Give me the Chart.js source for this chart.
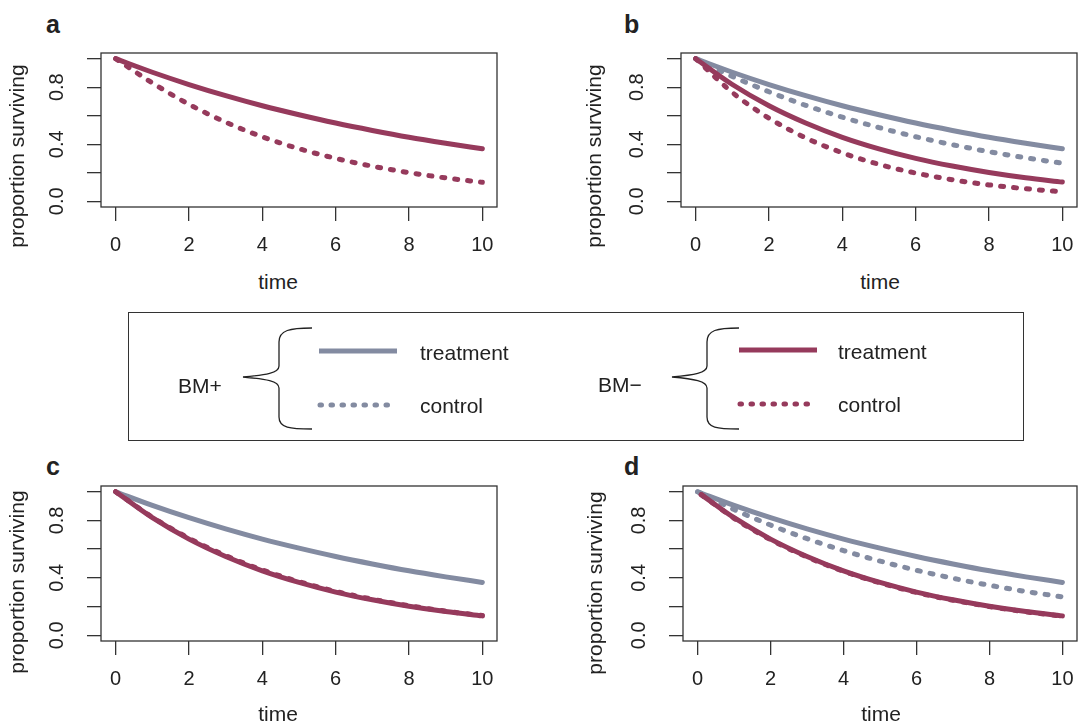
<!DOCTYPE html>
<html lang="en">
<head>
  <meta charset="UTF-8" />
  <title>Proportion surviving</title>
  <script src="https://cdn.jsdelivr.net/npm/chart.js"></script>
  <style>
    body { margin: 0; background: #fff; font-family: "Liberation Sans", Arial, sans-serif; color: #222; }
    #fig { position: relative; width: 1080px; height: 725px; overflow: hidden; }
    .panel { position: absolute; }
    .lbl { position: absolute; white-space: nowrap; font-size: 21px; transform: translate(-50%, -50%); }
    .ytitle { transform: translate(-50%, -50%) rotate(-90deg); }
    .letter { position: absolute; font-weight: bold; font-size: 25px; line-height: 1; }
    #legend { position: absolute; left: 128px; top: 312px; width: 896px; height: 129px; border: 1.3px solid #333; box-sizing: border-box; }
    .ltext { position: absolute; font-size: 21px; line-height: 1; transform: translateY(-50%); white-space: nowrap; }
    svg { position: absolute; left: 0; top: 0; }
  </style>
</head>
<body>
<div id="fig">
  <div class="letter" style="left:46px; top:12px">a</div>
  <div class="letter" style="left:624px; top:12px">b</div>
  <div class="letter" style="left:46px; top:454px">c</div>
  <div class="letter" style="left:624px; top:454px">d</div>

  <div class="panel" style="left:0px; top:40px; width:520px; height:230px"><canvas id="chartA"></canvas></div>
  <div class="panel" style="left:580px; top:40px; width:500px; height:230px"><canvas id="chartB"></canvas></div>
  <div class="panel" style="left:0px; top:473px; width:520px; height:230px"><canvas id="chartC"></canvas></div>
  <div class="panel" style="left:580px; top:473px; width:500px; height:230px"><canvas id="chartD"></canvas></div>

  <div class="lbl ytitle" style="left:17px; top:156px">proportion surviving</div>
  <div class="lbl ytitle" style="left:594px; top:156px">proportion surviving</div>
  <div class="lbl ytitle" style="left:17px; top:582px">proportion surviving</div>
  <div class="lbl ytitle" style="left:595px; top:583px">proportion surviving</div>
  <div class="lbl" style="left:278px; top:282px">time</div>
  <div class="lbl" style="left:880px; top:282px">time</div>
  <div class="lbl" style="left:278px; top:714px">time</div>
  <div class="lbl" style="left:881px; top:714px">time</div>

  <div id="legend"></div>
  <svg width="1080" height="725">
    <!-- braces -->
    <path d="M312,328 C290,328 279,330 279,342 L279,366 C279,373 266,375 243,377 C266,379 279,381 279,388 L279,417 C279,428 290,429 312,429" fill="none" stroke="#222" stroke-width="1.3"/>
    <path d="M739,328 C717,328 707,330 707,342 L707,366 C707,373 694,375 672,377 C694,379 707,381 707,388 L707,417 C707,428 717,429 739,429" fill="none" stroke="#222" stroke-width="1.3"/>
    <line id="lgGrayT" x1="319" y1="351" x2="397" y2="351" stroke-width="5"/>
    <line id="lgGrayC" x1="320" y1="405" x2="397" y2="405" stroke-width="5" stroke-linecap="round" stroke-dasharray="1.5 9.5"/>
    <line id="lgRedT" x1="739" y1="350" x2="817" y2="350" stroke-width="5"/>
    <line id="lgRedC" x1="740" y1="404" x2="817" y2="404" stroke-width="5" stroke-linecap="round" stroke-dasharray="1.5 9.5"/>
  </svg>
  <div class="ltext" style="left:178px; top:385px">BM+</div>
  <div class="ltext" style="left:420px; top:352px">treatment</div>
  <div class="ltext" style="left:420px; top:405px">control</div>
  <div class="ltext" style="left:598px; top:384px">BM−</div>
  <div class="ltext" style="left:838px; top:351px">treatment</div>
  <div class="ltext" style="left:838px; top:404px">control</div>
</div>

<script>
  // ---- data ----
  const times = [0, 1, 2, 3, 4, 5, 6, 7, 8, 9, 10];
  const timesD = [0.1, 1, 2, 3, 4, 5, 6, 7, 8, 9, 10];
  const xTicks = [0, 2, 4, 6, 8, 10];
  const yTicks = [0, 0.2, 0.4, 0.6, 0.8, 1.0];
  const yTickLabels = ['0.0', '', '0.4', '', '0.8', ''];

  // panel a
  const aTreatNeg   = [1.000, 0.905, 0.819, 0.741, 0.670, 0.607, 0.549, 0.497, 0.449, 0.407, 0.368];
  const aControlNeg = [1.000, 0.830, 0.680, 0.555, 0.452, 0.369, 0.301, 0.246, 0.201, 0.164, 0.133];
  // panel b
  const bTreatPos   = [1.000, 0.905, 0.819, 0.741, 0.670, 0.607, 0.549, 0.497, 0.449, 0.407, 0.368];
  const bControlPos = [1.000, 0.876, 0.768, 0.673, 0.590, 0.517, 0.453, 0.397, 0.348, 0.305, 0.267];
  const bTreatNeg   = [1.000, 0.819, 0.670, 0.549, 0.449, 0.368, 0.301, 0.247, 0.202, 0.165, 0.135];
  const bControlNeg = [1.000, 0.763, 0.583, 0.445, 0.340, 0.259, 0.198, 0.151, 0.115, 0.088, 0.067];
  // panel c
  const cTreatPos   = [1.000, 0.905, 0.819, 0.741, 0.670, 0.607, 0.549, 0.497, 0.449, 0.407, 0.368];
  const cTreatNeg   = [1.000, 0.819, 0.670, 0.549, 0.449, 0.368, 0.301, 0.247, 0.202, 0.165, 0.135];
  const cControlNeg = [1.000, 0.823, 0.676, 0.555, 0.455, 0.374, 0.306, 0.251, 0.206, 0.168, 0.137];
  // panel d
  const dTreatPos   = [1.000, 0.905, 0.819, 0.741, 0.670, 0.607, 0.549, 0.497, 0.449, 0.407, 0.368];
  const dControlPos = [1.000, 0.876, 0.768, 0.673, 0.590, 0.517, 0.453, 0.397, 0.348, 0.305, 0.267];
  const dTreatNeg   = [0.980, 0.819, 0.670, 0.549, 0.449, 0.368, 0.301, 0.247, 0.202, 0.165, 0.135];
  const dControlNeg = [0.980, 0.815, 0.666, 0.545, 0.446, 0.365, 0.298, 0.244, 0.200, 0.163, 0.133];

  const RED = '#963a5c';
  const GRAY = '#838ba1';
  const FONT = '"Liberation Sans", Arial, sans-serif';

  ['lgGrayT', 'lgGrayC'].forEach(id => document.getElementById(id).setAttribute('stroke', GRAY));
  ['lgRedT', 'lgRedC'].forEach(id => document.getElementById(id).setAttribute('stroke', RED));

  const pts = (xs, ys) => ys.map((y, i) => ({ x: xs[i], y }));

  function line(xs, ys, color, dotted) {
    return {
      data: pts(xs, ys),
      borderColor: color,
      borderWidth: 5,
      borderCapStyle: 'round',
      borderDash: dotted ? [3, 10] : [],
      pointRadius: 0,
      cubicInterpolationMode: 'monotone',
      fill: false
    };
  }

  const framePlugin = {
    id: 'frame',
    afterDraw(chart) {
      const { ctx, chartArea: a } = chart;
      ctx.save();
      ctx.strokeStyle = '#333';
      ctx.lineWidth = 1.3;
      ctx.strokeRect(a.left, a.top, a.right - a.left, a.bottom - a.top);
      ctx.restore();
    }
  };

  function makePanel(id, datasets, yWidth, padTop, padRight, xHeight) {
    const noPad = s => { s.paddingTop = 0; s.paddingBottom = 0; s.paddingLeft = 0; s.paddingRight = 0; };
    new Chart(document.getElementById(id), {
      type: 'line',
      data: { datasets },
      plugins: [framePlugin],
      options: {
        responsive: true,
        maintainAspectRatio: false,
        animation: false,
        layout: { padding: { top: padTop, right: padRight, left: 0, bottom: 0 } },
        plugins: { legend: { display: false }, tooltip: { enabled: false } },
        scales: {
          x: {
            type: 'linear', min: -0.4, max: 10.4,
            afterBuildTicks: s => { s.ticks = xTicks.map(v => ({ value: v })); },
            afterFit: s => { s.height = xHeight; noPad(s); },
            border: { display: false },
            grid: { drawOnChartArea: false, drawTicks: true, tickLength: 14, color: '#333', lineWidth: 1.3 },
            ticks: { autoSkip: false, maxRotation: 0, padding: 12, color: '#222', font: { family: FONT, size: 20 } }
          },
          y: {
            type: 'linear', min: -0.04, max: 1.04,
            afterBuildTicks: s => { s.ticks = yTicks.map(v => ({ value: v })); },
            afterFit: s => { s.width = yWidth; noPad(s); },
            border: { display: false },
            grid: { drawOnChartArea: false, drawTicks: true, tickLength: 14, color: '#333', lineWidth: 1.3 },
            ticks: {
              autoSkip: false, minRotation: 90, maxRotation: 90, crossAlign: 'center', padding: 16,
              color: '#222', font: { family: FONT, size: 20 },
              callback: (v, i) => yTickLabels[i]
            }
          }
        }
      }
    });
  }

  makePanel('chartA', [
    line(times, aControlNeg, RED, true),
    line(times, aTreatNeg, RED, false)
  ], 101, 13, 23, 63);

  makePanel('chartB', [
    line(times, bControlNeg, RED, true),
    line(times, bTreatNeg, RED, false),
    line(times, bControlPos, GRAY, true),
    line(times, bTreatPos, GRAY, false)
  ], 101, 13, 3, 63);

  makePanel('chartC', [
    line(times, cTreatNeg, RED, false),
    line(times, cControlNeg, RED, true),
    line(times, cTreatPos, GRAY, false)
  ], 101, 13, 23, 62);

  makePanel('chartD', [
    line(timesD, dTreatNeg, RED, false),
    line(timesD, dControlNeg, RED, true),
    line(times, dControlPos, GRAY, true),
    line(times, dTreatPos, GRAY, false)
  ], 103, 13, 3, 62);
</script>
</body>
</html>
